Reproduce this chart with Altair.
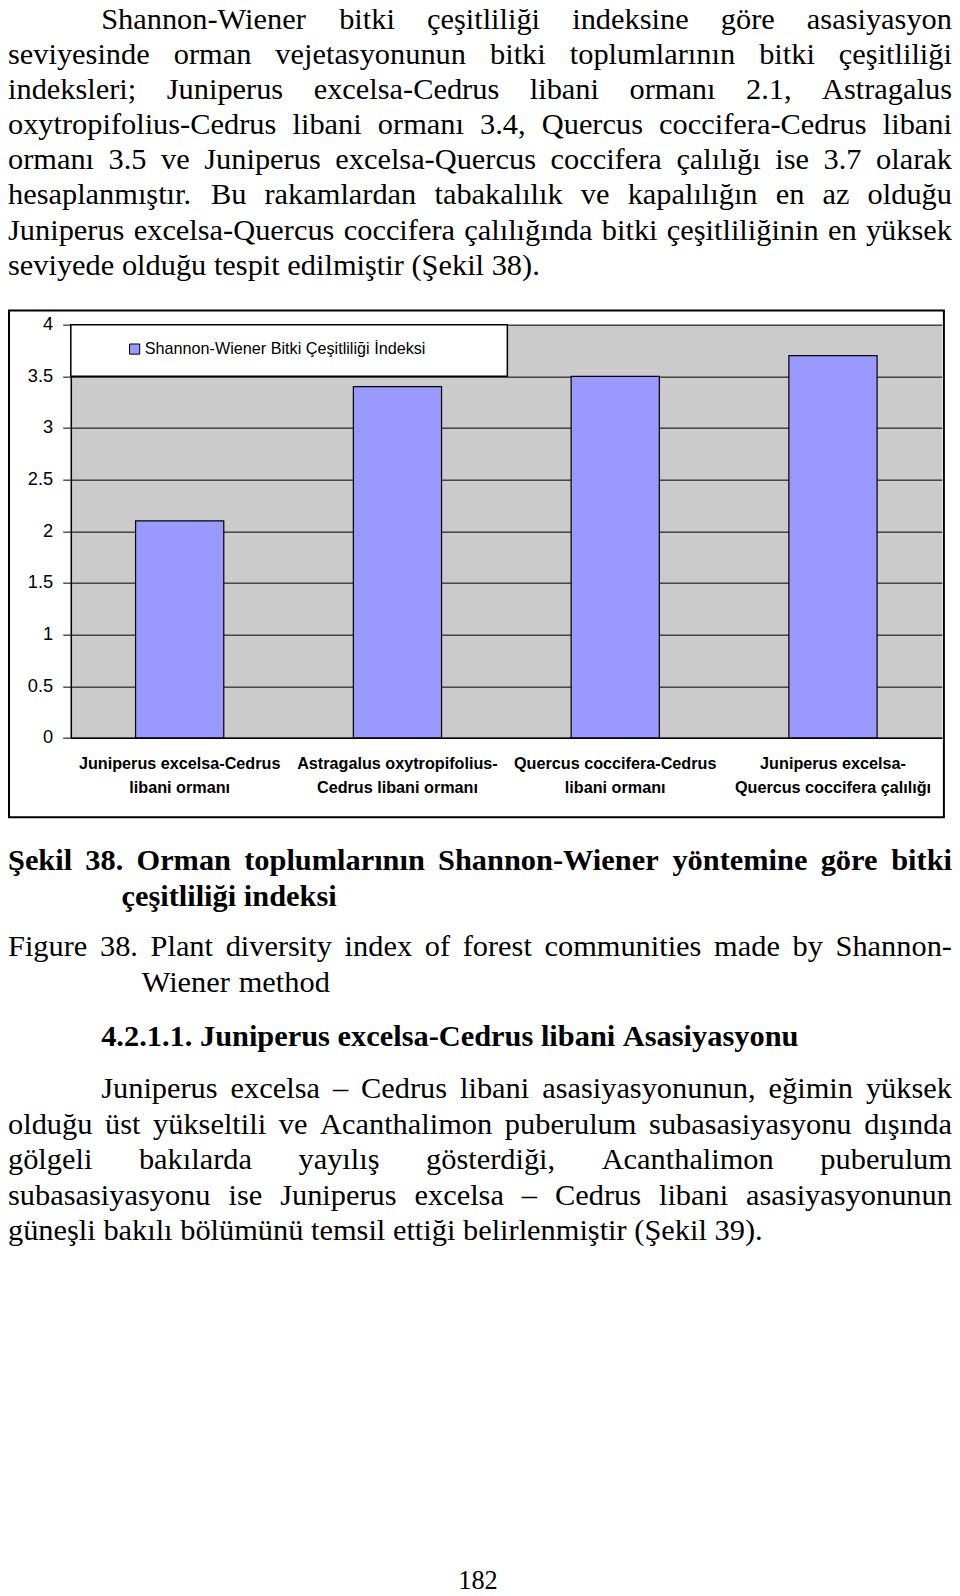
import altair as alt
import pandas as pd

# ---------------- chart data ----------------
categories = [
    "Juniperus excelsa-Cedrus|libani ormanı",
    "Astragalus oxytropifolius-|Cedrus libani ormanı",
    "Quercus coccifera-Cedrus|libani ormanı",
    "Juniperus excelsa-|Quercus coccifera çalılığı",
]
values = [2.1, 3.4, 3.5, 3.7]
series_name = "Shannon-Wiener Bitki Çeşitliliği İndeksi"
y_ticks = [0, 0.5, 1, 1.5, 2, 2.5, 3, 3.5, 4]

# ---------------- page text ----------------
top_paragraph = [
    "Shannon-Wiener bitki çeşitliliği indeksine göre asasiyasyon",
    "seviyesinde orman vejetasyonunun bitki toplumlarının bitki çeşitliliği",
    "indeksleri; Juniperus excelsa-Cedrus libani ormanı 2.1, Astragalus",
    "oxytropifolius-Cedrus libani ormanı 3.4, Quercus coccifera-Cedrus libani",
    "ormanı 3.5 ve Juniperus excelsa-Quercus coccifera çalılığı ise 3.7 olarak",
    "hesaplanmıştır. Bu rakamlardan tabakalılık ve kapalılığın en az olduğu",
    "Juniperus excelsa-Quercus coccifera çalılığında bitki çeşitliliğinin en yüksek",
    "seviyede olduğu tespit edilmiştir (Şekil 38).",
]
caption_tr = ["Şekil 38. Orman toplumlarının Shannon-Wiener yöntemine göre bitki",
              "çeşitliliği indeksi"]
caption_en = ["Figure 38. Plant diversity index of forest communities made by Shannon-",
              "Wiener method"]
heading = "4.2.1.1. Juniperus excelsa-Cedrus libani Asasiyasyonu"
bottom_paragraph = [
    "Juniperus excelsa – Cedrus libani asasiyasyonunun, eğimin yüksek",
    "olduğu üst yükseltili ve Acanthalimon puberulum subasasiyasyonu dışında",
    "gölgeli bakılarda yayılış gösterdiği, Acanthalimon puberulum",
    "subasasiyasyonu ise Juniperus excelsa – Cedrus libani asasiyasyonunun",
    "güneşli bakılı bölümünü temsil ettiği belirlenmiştir (Şekil 39).",
]
page_number = "182"

# ---------------- layout helpers (Times metrics, 1/1000 em) ----------------
REG = {' ': 250, 'a': 444, 'b': 500, 'c': 444, 'd': 500, 'e': 444, 'f': 333, 'g': 500, 'h': 500,
       'i': 278, 'j': 278, 'k': 500, 'l': 278, 'm': 778, 'n': 500, 'o': 500, 'p': 500, 'q': 500,
       'r': 333, 's': 389, 't': 278, 'u': 500, 'v': 500, 'w': 722, 'x': 500, 'y': 500, 'z': 444,
       'A': 722, 'B': 667, 'C': 667, 'D': 722, 'E': 611, 'F': 556, 'G': 722, 'H': 722, 'I': 333,
       'J': 389, 'K': 722, 'L': 611, 'M': 889, 'N': 722, 'O': 722, 'P': 556, 'Q': 722, 'R': 667,
       'S': 556, 'T': 611, 'U': 722, 'V': 722, 'W': 944, 'Y': 722, 'Z': 611,
       '.': 250, ',': 250, ';': 278, ':': 278, '-': 333, '–': 500, '(': 333, ')': 333,
       'ç': 444, 'ş': 389, 'ı': 278, 'ğ': 500, 'ü': 500, 'ö': 500, 'Ş': 556, 'İ': 333, 'Ç': 667}
BOLD = {' ': 250, 'a': 500, 'b': 556, 'c': 444, 'd': 556, 'e': 444, 'f': 333, 'g': 500, 'h': 556,
        'i': 278, 'j': 333, 'k': 556, 'l': 278, 'm': 833, 'n': 556, 'o': 500, 'p': 556, 'q': 556,
        'r': 444, 's': 389, 't': 333, 'u': 556, 'v': 500, 'w': 722, 'x': 500, 'y': 500, 'z': 444,
        'A': 722, 'B': 667, 'C': 722, 'D': 722, 'E': 667, 'F': 611, 'G': 778, 'H': 778, 'I': 389,
        'J': 500, 'K': 778, 'L': 667, 'M': 944, 'N': 722, 'O': 778, 'P': 611, 'Q': 778, 'R': 722,
        'S': 556, 'T': 667, 'U': 722, 'V': 722, 'W': 1000, 'Y': 722, 'Z': 667,
        '.': 250, ',': 250, ';': 333, ':': 333, '-': 333, '–': 500, '(': 333, ')': 333,
        'ç': 444, 'ş': 389, 'ı': 278, 'ğ': 500, 'ü': 556, 'ö': 500, 'Ş': 556, 'İ': 389, 'Ç': 722}


def text_width(s, fs, bold):
    table = BOLD if bold else REG
    return sum(table.get(ch, 500) for ch in s) * fs / 1000.0


# layout designed in page pixels, mapped onto a 944-wide canvas
CANVAS_W, CANVAS_H = 944, 1595
AX = 944 / 932           # horizontal page -> canvas factor
SY = 1 / 0.9826          # vertical page -> canvas factor
ORIGIN_X, ORIGIN_Y = 70, 319      # plot-area origin on the page
PLOT_W, PLOT_H = 860, 406
LEFT, RIGHT = 8, 940
FS = 30


def rx(p):
    return (p - ORIGIN_X) * AX


def ry(p):
    return (p - ORIGIN_Y) * SY


rows = []


def add_line(text, x_left, y, bold=False, justify=True, fs=FS, x_right=RIGHT):
    words = text.split(' ')
    widths = [text_width(w, fs, bold) for w in words]
    if justify and len(words) > 1:
        gap = (x_right - x_left - sum(widths)) / (len(words) - 1)
    else:
        gap = text_width(' ', fs, bold)
    x = x_left
    for w, wd in zip(words, widths):
        rows.append({"word": w, "px": rx(x), "py": ry(y), "fs": fs * AX, "bold": bold})
        x += wd + gap


for i, line in enumerate(top_paragraph):
    add_line(line, 100 if i == 0 else LEFT, 19.5 + 34.5 * i,
             justify=(i < len(top_paragraph) - 1))
add_line(caption_tr[0], LEFT, 846, bold=True)
add_line(caption_tr[1], 120, 881, bold=True, justify=False)
add_line(caption_en[0], LEFT, 931)
add_line(caption_en[1], 140, 966, justify=False)
add_line(heading, 100, 1019, bold=True, justify=False)
for i, line in enumerate(bottom_paragraph):
    add_line(line, 100 if i == 0 else LEFT, 1070 + 35 * i,
             justify=(i < len(bottom_paragraph) - 1))
pn_w = text_width(page_number, 26, False)
add_line(page_number, 472 - pn_w / 2, 1553, fs=26, justify=False)

text_df = pd.DataFrame(rows)
reg_df = text_df[~text_df["bold"]]
bold_df = text_df[text_df["bold"]]

bar_df = pd.DataFrame({"category": categories, "value": values,
                       "series": [series_name] * len(values)})
legend_df = pd.DataFrame({"label": [series_name]})

# ---------------- chart ----------------
frame = alt.Chart(pd.DataFrame({"k": [0]})).mark_rect(
    filled=False, stroke="black", strokeWidth=2
).encode(x=alt.value(rx(9)), x2=alt.value(rx(932)),
         y=alt.value(ry(305)), y2=alt.value(ry(803)))

bars = alt.Chart(bar_df).mark_bar(stroke="black", strokeWidth=1.2).encode(
    x=alt.X("category:N", sort=categories,
            scale=alt.Scale(paddingInner=0.595, paddingOuter=0.2975),
            axis=alt.Axis(title=None, labelAngle=0, orient="bottom",
                          labelExpr="split(datum.label, '|')",
                          labelFont="Liberation Sans", labelFontSize=16 * AX,
                          labelColor="black", labelLineHeight=23 * SY,
                          labelPadding=18, labelLimit=400, labelBaseline="top",
                          labelFontWeight="bold", ticks=False,
                          domainColor="black", domainWidth=1.5, grid=False)),
    y=alt.Y("value:Q", scale=alt.Scale(domain=[0, 4], nice=False),
            axis=alt.Axis(title=None, values=y_ticks, format="~g", orient="left",
                          labelFont="Liberation Sans", labelFontSize=18 * AX,
                          labelColor="black", labelPadding=10,
                          tickSize=8 * AX, tickColor="black",
                          domainColor="black", domainWidth=1.5,
                          gridColor="black", gridWidth=1, gridOpacity=1)),
    color=alt.Color("series:N", scale=alt.Scale(range=["#9999FF"]), legend=None),
)

legend_box = alt.Chart(pd.DataFrame({"k": [0]})).mark_rect(
    fill="white", stroke="black", strokeWidth=1.5
).encode(x=alt.value(rx(70)), x2=alt.value(rx(501)), y=alt.datum(4), y2=alt.datum(3.5))

legend_symbol = alt.Chart(legend_df).mark_rect(
    fill="#9999FF", stroke="black", strokeWidth=1
).encode(x=alt.value(rx(128)), x2=alt.value(rx(138)),
         y=alt.value(ry(338)), y2=alt.value(ry(348)))

legend_label = alt.Chart(legend_df).mark_text(
    align="left", baseline="middle", font="Liberation Sans", fontSize=16 * AX, color="black"
).encode(x=alt.value(rx(143)), y=alt.value(ry(343)), text="label:N")

text_reg = alt.Chart(reg_df).mark_text(
    align="left", baseline="middle", font="Liberation Serif", color="black"
).encode(x=alt.X("px:Q", scale=None, axis=None),
         y=alt.Y("py:Q", scale=None, axis=None),
         size=alt.Size("fs:Q", scale=None, legend=None),
         text="word:N")

text_bold = alt.Chart(bold_df).mark_text(
    align="left", baseline="middle", font="Liberation Serif", fontWeight="bold", color="black"
).encode(x=alt.X("px:Q", scale=None, axis=None),
         y=alt.Y("py:Q", scale=None, axis=None),
         size=alt.Size("fs:Q", scale=None, legend=None),
         text="word:N")

pad_left = (ORIGIN_X - 8) * AX
pad_top = ORIGIN_Y * SY - 8
chart = alt.layer(frame, bars, legend_box, legend_symbol, legend_label,
                  text_reg, text_bold).properties(
    width=PLOT_W * AX, height=PLOT_H * SY,
    autosize=alt.AutoSizeParams(type="none"),
    padding={"left": pad_left, "top": pad_top,
             "right": CANVAS_W - pad_left - PLOT_W * AX,
             "bottom": CANVAS_H - pad_top - PLOT_H * SY},
    background="white",
).configure_view(fill="#CBCBCB", strokeWidth=0)

chart.save("out.html", embed_options={"renderer": "svg", "actions": False})
